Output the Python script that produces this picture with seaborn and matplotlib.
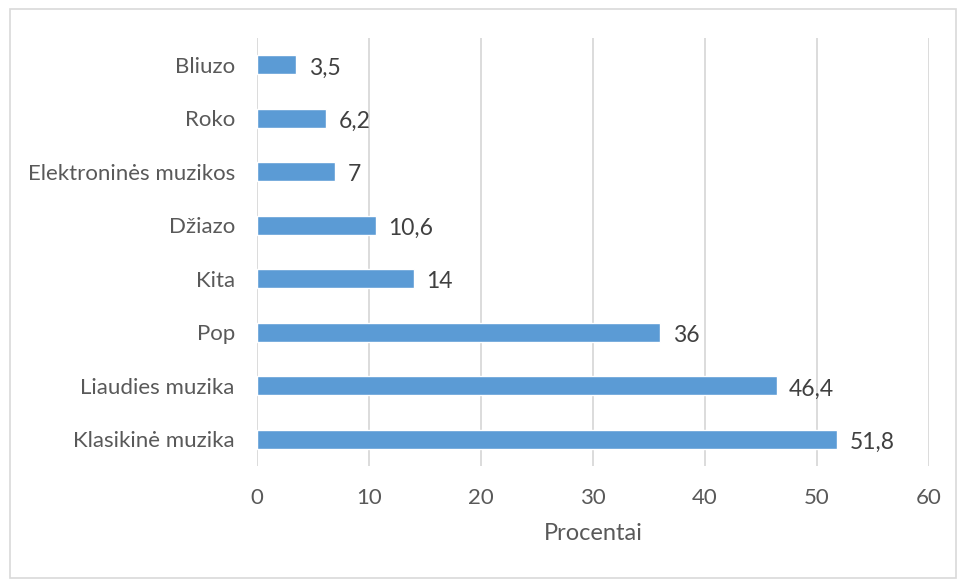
import matplotlib
matplotlib.use("Agg")
import matplotlib.pyplot as plt
import seaborn as sns
import pandas as pd
from matplotlib.patches import Rectangle

categories = ["Bliuzo", "Roko", "Elektroninės muzikos", "Džiazo", "Kita", "Pop",
              "Liaudies muzika", "Klasikinė muzika"]
values = [3.5, 6.2, 7, 10.6, 14, 36, 46.4, 51.8]
value_labels = ["3,5", "6,2", "7", "10,6", "14", "36", "46,4", "51,8"]
x_ticks = [0, 10, 20, 30, 40, 50, 60]

sns.set_theme(style="white")
plt.rcParams['font.family'] = ['Lato', 'DejaVu Sans']

df = pd.DataFrame({"cat": categories, "val": values})

fig = plt.figure(figsize=(9.59, 5.81), dpi=100)
ax = fig.add_axes([257/959, 1 - 466/581, (929-257)/959, (466-38)/581])
sns.barplot(data=df, y="cat", x="val", orient="h", color="#5B9BD5",
            saturation=1, width=0.36, ax=ax, zorder=3)

ax.set_xlim(0, 60)
ax.set_xticks(x_ticks)
ax.set_xticklabels([str(t) for t in x_ticks])
ax.xaxis.grid(True, color="#D9D9D9", linewidth=1.3, zorder=0)
ax.set_axisbelow(True)
for s in ax.spines.values():
    s.set_visible(False)
ax.tick_params(axis="y", length=0, labelsize=16, colors="#595959", pad=16)
ax.tick_params(axis="x", length=0, labelsize=16, colors="#595959", pad=16)
ax.set_ylabel("")
ax.set_xlabel("Procentai", fontsize=17, color="#595959", labelpad=11)

for i, (v, lab) in enumerate(zip(values, value_labels)):
    ax.text(v + 1.1, i + 0.06, lab, va="center", ha="left", fontsize=16.5, color="#404040")

fig.patches.append(Rectangle((10/959, 3/581), 946/959, 569/581, transform=fig.transFigure,
                             fill=False, edgecolor="#D9D9D9", linewidth=1.2))

fig.savefig("out.png", dpi=100)
